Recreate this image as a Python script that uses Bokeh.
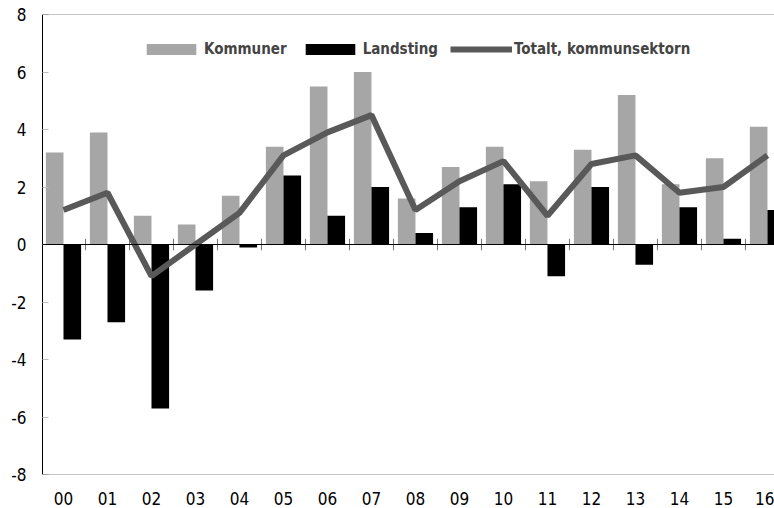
from bokeh.plotting import figure
from bokeh.models import ColumnDataSource, Legend, LegendItem, Span, FixedTicker
from bokeh.embed import file_html
from bokeh.resources import INLINE

years = ["00", "01", "02", "03", "04", "05", "06", "07", "08", "09",
         "10", "11", "12", "13", "14", "15", "16"]
kommuner = [3.2, 3.9, 1.0, 0.7, 1.7, 3.4, 5.5, 6.0, 1.6, 2.7, 3.4, 2.2, 3.3, 5.2, 2.1, 3.0, 4.1]
landsting = [-3.3, -2.7, -5.7, -1.6, -0.1, 2.4, 1.0, 2.0, 0.4, 1.3, 2.1, -1.1, 2.0, -0.7, 1.3, 0.2, 1.2]
totalt = [1.2, 1.8, -1.1, 0.0, 1.1, 3.1, 3.9, 4.5, 1.2, 2.2, 2.9, 1.0, 2.8, 3.1, 1.8, 2.0, 3.1]
y_ticks = [-8, -6, -4, -2, 0, 2, 4, 6, 8]
y_labels = ["-8", "-6", "-4", "-2", "0", "2", "4", "6", "8"]

FONT = "'DejaVu Sans Condensed', sans-serif"

idx = list(range(len(years)))
src = ColumnDataSource(dict(
    x=idx,
    xk=[i - 0.2 for i in idx],
    xl=[i + 0.2 for i in idx],
    k=kommuner, l=landsting, t=totalt,
))

p = figure(width=774, height=508, output_backend="svg", toolbar_location=None,
           x_range=(-0.477, 16.16), y_range=(-8, 8),
           min_border_left=42, min_border_right=0, min_border_top=14, min_border_bottom=34)
p.outline_line_color = None
p.xgrid.visible = False
p.ygrid.visible = False

rk = p.vbar(x="xk", top="k", bottom=0, width=0.40, source=src,
            fill_color="#A6A6A6", line_color=None)
rl = p.vbar(x="xl", top="l", bottom=0, width=0.40, source=src,
            fill_color="#000000", line_color=None)

# zero axis line and category boundary ticks
p.add_layout(Span(location=0, dimension="width", line_color="#000000", line_width=1))
p.add_layout(Span(location=8, dimension="width", line_color="#8C8C8C", line_width=1))
p.add_layout(Span(location=-8, dimension="width", line_color="#8C8C8C", line_width=1))
bx = [i + 0.5 for i in idx[:-1]]
p.segment(x0=bx, x1=bx, y0=[-0.2] * len(bx), y1=[0.2] * len(bx),
          line_color="#777777", line_width=1)

rt = p.line(x="x", y="t", source=src, line_color="#595959", line_width=6)

# y axis
ya = p.yaxis[0]
ya.ticker = FixedTicker(ticks=y_ticks)
ya.major_label_overrides = {t: s for t, s in zip(y_ticks, y_labels)}
ya.axis_line_color = "#000000"
ya.major_tick_in = 6
ya.major_tick_out = 0
ya.major_tick_line_color = "#BBBBBB"
ya.minor_tick_line_color = None
ya.major_label_standoff = 16
ya.major_label_text_font = FONT
ya.major_label_text_font_size = "17px"
ya.major_label_text_color = "#000000"

# x axis (labels only)
xa = p.xaxis[0]
xa.ticker = FixedTicker(ticks=idx)
xa.major_label_overrides = {i: y for i, y in enumerate(years)}
xa.axis_line_color = None
xa.major_tick_line_color = None
xa.minor_tick_line_color = None
xa.major_label_standoff = 11
xa.major_label_text_font = FONT
xa.major_label_text_font_size = "17px"
xa.major_label_text_color = "#000000"

legend = Legend(items=[
    LegendItem(label="Kommuner", renderers=[rk]),
    LegendItem(label="Landsting", renderers=[rl]),
    LegendItem(label="Totalt, kommunsektorn", renderers=[rt]),
], orientation="horizontal", location=(98, 415))
legend.glyph_width = 62
legend.glyph_height = 14
legend.label_standoff = 2
legend.spacing = 12
legend.padding = 0
legend.margin = 0
legend.label_height = 20
legend.label_text_font = FONT
legend.label_text_font_style = "bold"
legend.label_text_font_size = "15px"
legend.background_fill_alpha = 0
legend.border_line_color = None
p.add_layout(legend, "center")

open("out.html", "w").write(file_html(p, INLINE))
